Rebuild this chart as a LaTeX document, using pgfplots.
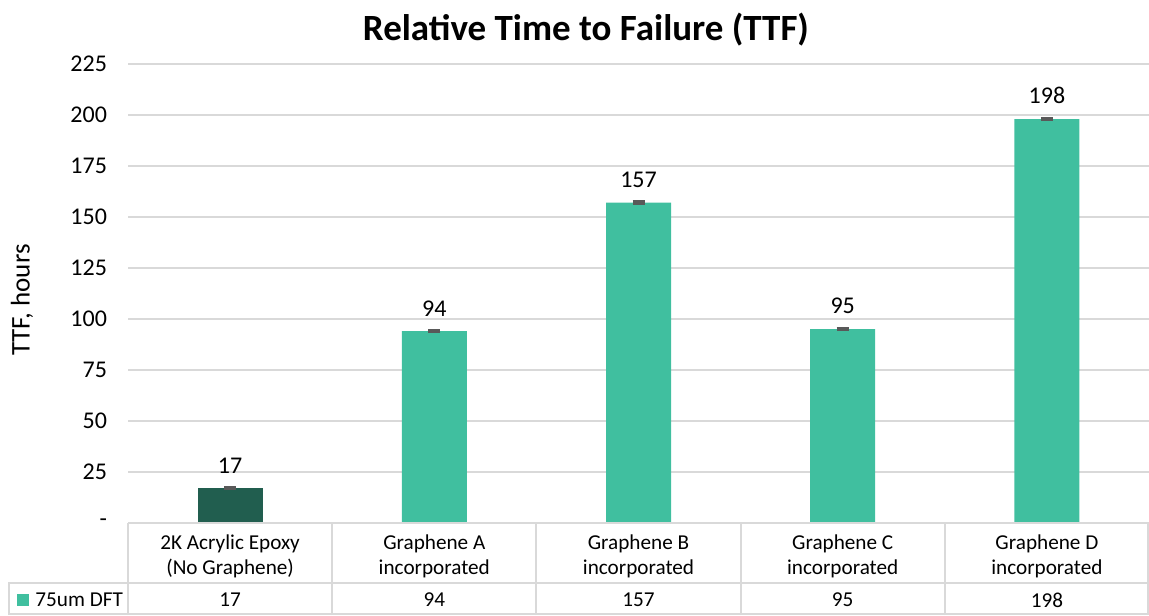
\documentclass[border=0pt]{standalone}
\usepackage{pgfplots}
\pgfplotsset{compat=1.18}
\usepackage{fontspec}
\setmainfont{Carlito}
\definecolor{darkbar}{HTML}{215E4F}
\definecolor{tealbar}{HTML}{40BF9F}
\definecolor{gridgray}{HTML}{D9D9D9}
\definecolor{errgray}{HTML}{595959}
\begin{document}
\begin{tikzpicture}
\useasboundingbox (0,0) rectangle (574.5pt,307.5pt);
\begin{axis}[
  at={(64pt,46pt)}, anchor=south west,
  scale only axis, width=510.5pt, height=229.5pt,
  xmin=-0.5, xmax=4.5, ymin=0, ymax=225,
  ytick={0,25,...,225},
  yticklabels={-,25,50,75,100,125,150,175,200,225},
  xtick={0,...,4},
  xticklabels={{2K Acrylic Epoxy\\(No Graphene)},{Graphene A\\incorporated},{Graphene B\\incorporated},{Graphene C\\incorporated},{Graphene D\\incorporated}},
  xticklabel style={align=center, font=\fontsize{10.6}{12.5}\selectfont, yshift=-2.5pt},
  yticklabel style={font=\fontsize{12}{14}\selectfont, xshift=-7pt},
  /pgf/number format/assume math mode=true,
  axis line style={draw=none},
  major tick length=0pt,
  ymajorgrids, grid style={gridgray, line width=1pt},
  clip=false,
  nodes near coords,
  nodes near coords style={font=\fontsize{12}{14}\selectfont, yshift=4pt, text=black},
]
\addplot[ybar, fill=darkbar, draw=none, bar width=32.5pt, bar shift=0pt,
  error bars/.cd, y dir=both, y explicit, error mark=|,
  error bar style={errgray, line width=1.5pt},
  error mark options={errgray, line width=1.5pt, mark size=3pt}]
  coordinates {(0,17) +- (0,0.3)};
\addplot[ybar, fill=tealbar, draw=none, bar width=32.5pt, bar shift=0pt,
  error bars/.cd, y dir=both, y explicit, error mark=|,
  error bar style={errgray, line width=1.5pt},
  error mark options={errgray, line width=1.5pt, mark size=3pt}]
  coordinates {(1,94) +- (0,0.3) (2,157) +- (0,0.6) (3,95) +- (0,0.3) (4,198) +- (0,0.3)};
\end{axis}
% data table
\begin{scope}[gridgray, line width=1pt]
\draw (64pt,46pt) -- (574.5pt,46pt);
\draw (4pt,16pt) -- (574.5pt,16pt);
\draw (4pt,0.5pt) -- (574.5pt,0.5pt);
\draw (4.5pt,0pt) -- (4.5pt,16pt);
\foreach \k in {0,...,4} \draw (64pt+\k*102.1pt,0pt) -- ++(0,46pt);
\draw (574pt,0pt) -- (574pt,46pt);
\end{scope}
\fill[tealbar] (8.5pt,4.5pt) rectangle (14.5pt,10.5pt);
\node[anchor=west, font=\fontsize{10.6}{12}\selectfont, inner sep=0pt] at (17.5pt,7.5pt) {75um DFT};
\foreach \v [count=\i from 0] in {17,94,157,95,198}
  \node[font=\fontsize{10.6}{12}\selectfont] at (64pt+\i*102.1pt+51.05pt,7.5pt) {\v};
\node[font=\fontsize{18.5}{20}\selectfont\bfseries] at (293pt,292.5pt) {Relative Time to Failure (TTF)};
\node[font=\fontsize{13.5}{15}\selectfont, rotate=90] at (11pt,157.5pt) {TTF, hours};
\end{tikzpicture}
\end{document}
